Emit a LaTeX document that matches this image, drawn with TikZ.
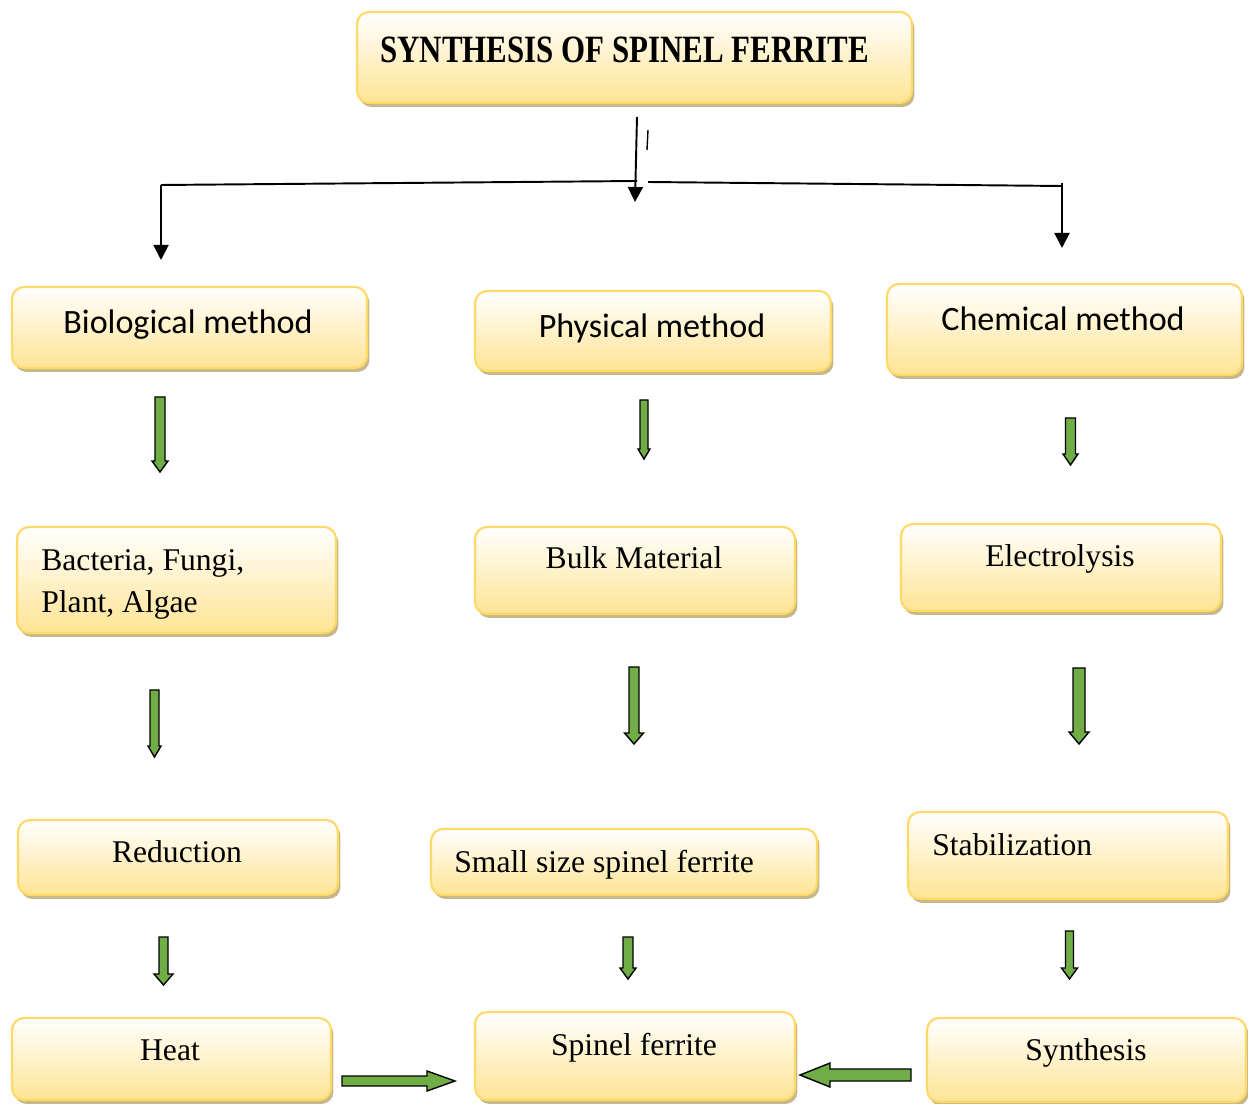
\documentclass[tikz,border=0pt]{standalone}
\usepackage{fontspec}
\setmainfont{Liberation Serif}
\newfontfamily\calibri{Carlito}
\usetikzlibrary{arrows.meta, shadows}
\definecolor{boxline}{RGB}{255,217,102}
\definecolor{boxfill}{RGB}{255,228,148}
\definecolor{boxshadow}{RGB}{198,184,138}
\definecolor{arrowgreen}{RGB}{112,173,71}
\tikzset{>={Triangle[length=0.3cm, width=0.3cm]}}
\tikzset{
	box/.style = {rounded corners = 0.24cm, draw = boxline, line width = 1.2pt, top color = white, bottom color = boxfill, inner sep = 0pt,
		drop shadow = {shadow xshift = 0.05cm, shadow yshift = -0.08cm, fill = boxshadow, opacity = 1}},
	titlelabel/.style = {font = \bfseries\fontsize{22}{26}\selectfont, inner sep = 0pt},
	sanslabel/.style = {font = \calibri\fontsize{19.4}{23}\selectfont, inner sep = 0pt},
	serlabel/.style = {font = \fontsize{18}{24.4}\selectfont, inner sep = 0pt},
	link/.style = {->, line width = 1.1pt},
	garrow/.style = {fill = arrowgreen, draw = black, line width = 0.8pt, line join = miter}
}

\begin{document}
\begin{tikzpicture}[x = 0.02cm, y = -0.02cm]
	\useasboundingbox (0,0) rectangle (1248,1104);
	% boxes
	\node[box, minimum width = 11.1cm, minimum height = 1.82cm] (title) at (634.5,57.5) {};
	\node[box, minimum width = 7.1cm, minimum height = 1.62cm] (bio) at (189.5,327.5) {};
	\node[box, minimum width = 7.12cm, minimum height = 1.6cm] (phys) at (653,331) {};
	\node[box, minimum width = 7.1cm, minimum height = 1.82cm] (chem) at (1064.5,329.5) {};
	\node[box, minimum width = 6.38cm, minimum height = 2.12cm] (bact) at (176.5,580) {};
	\node[box, minimum width = 6.4cm, minimum height = 1.74cm] (bulk) at (635,570.5) {};
	\node[box, minimum width = 6.4cm, minimum height = 1.74cm] (elec) at (1061,567.5) {};
	\node[box, minimum width = 6.4cm, minimum height = 1.5cm] (red) at (178,857.5) {};
	\node[box, minimum width = 7.72cm, minimum height = 1.32cm] (small) at (624,862) {};
	\node[box, minimum width = 6.4cm, minimum height = 1.74cm] (stab) at (1068,855.5) {};
	\node[box, minimum width = 6.38cm, minimum height = 1.64cm] (heat) at (171.5,1059) {};
	\node[box, minimum width = 6.4cm, minimum height = 1.76cm] (spinel) at (635,1056) {};
	\node[box, minimum width = 6.38cm, minimum height = 1.68cm] (synth) at (1086.5,1060) {};
	% texts
	\node[titlelabel, anchor = west] (title-t) at (380,50) {\scalebox{0.8}[1]{SYNTHESIS OF SPINEL FERRITE}};
	\node[sanslabel, anchor = base] (bio-t) at (188,334) {Biological method};
	\node[sanslabel, anchor = base] (phys-t) at (652,338) {Physical method};
	\node[sanslabel, anchor = base] (chem-t) at (1063,331) {Chemical method};
	\node[serlabel, anchor = base west, align = left] (bact-t) at (41,613) {Bacteria, Fungi,\\Plant, Algae};
	\node[serlabel, anchor = base] (bulk-t) at (634,569) {Bulk Material};
	\node[serlabel, anchor = base] (elec-t) at (1060,567) {Electrolysis};
	\node[serlabel, anchor = base] (red-t) at (177,862) {Reduction};
	\node[serlabel, anchor = base west] (small-t) at (454,872) {Small size spinel ferrite};
	\node[serlabel, anchor = base west] (stab-t) at (932,855) {Stabilization};
	\node[serlabel, anchor = base] (heat-t) at (170,1060) {Heat};
	\node[serlabel, anchor = base] (spinel-t) at (634,1055) {Spinel ferrite};
	\node[serlabel, anchor = base] (synth-t) at (1086,1060) {Synthesis};
	% black branching connectors
	\coordinate (top) at (637,117);
	\coordinate (mid) at (635,202);
	\coordinate (jl) at (637,181);
	\coordinate (jr) at (648,182);
	\coordinate (left) at (161,185);
	\coordinate (right) at (1062,186);
	\draw[link] (top) -- (mid);
	\draw[line width = 1.1pt] (left) -- (jl);
	\draw[line width = 1.1pt] (jr) -- (right);
	\draw[link] (left) -- (161,260);
	\draw[link] (1062,183) -- (1062,248);
	\draw[line width = 0.8pt] (648,130) -- (647,150);
	% green block arrows
	\foreach \x/\ya/\yb/\s/\h/\l in {160/397/472/5/8/11, 644/400/459/4/6/10, 1070.5/418/465/5/7.5/11, 154.5/690/757/4.5/6.5/11, 634/667/744/5/9.5/11, 1079/668/744/6/10/12, 163.5/937/985/4.5/9.5/11, 628/937/979/5/8/11, 1069.5/931/979/4/8/11}
	\draw[garrow] (\x-\s,\ya) -- (\x+\s,\ya) -- (\x+\s,\yb-\l) -- (\x+\h,\yb-\l) -- (\x,\yb) -- (\x-\h,\yb-\l) -- (\x-\s,\yb-\l) -- cycle;
	\draw[garrow] (342,1076) -- (427,1076) -- (427,1071) -- (455,1081) -- (427,1091) -- (427,1086) -- (342,1086) -- cycle;
	\draw[garrow] (911,1069) -- (830,1069) -- (830,1063) -- (800,1075) -- (830,1087) -- (830,1081) -- (911,1081) -- cycle;
\end{tikzpicture}
\end{document}
